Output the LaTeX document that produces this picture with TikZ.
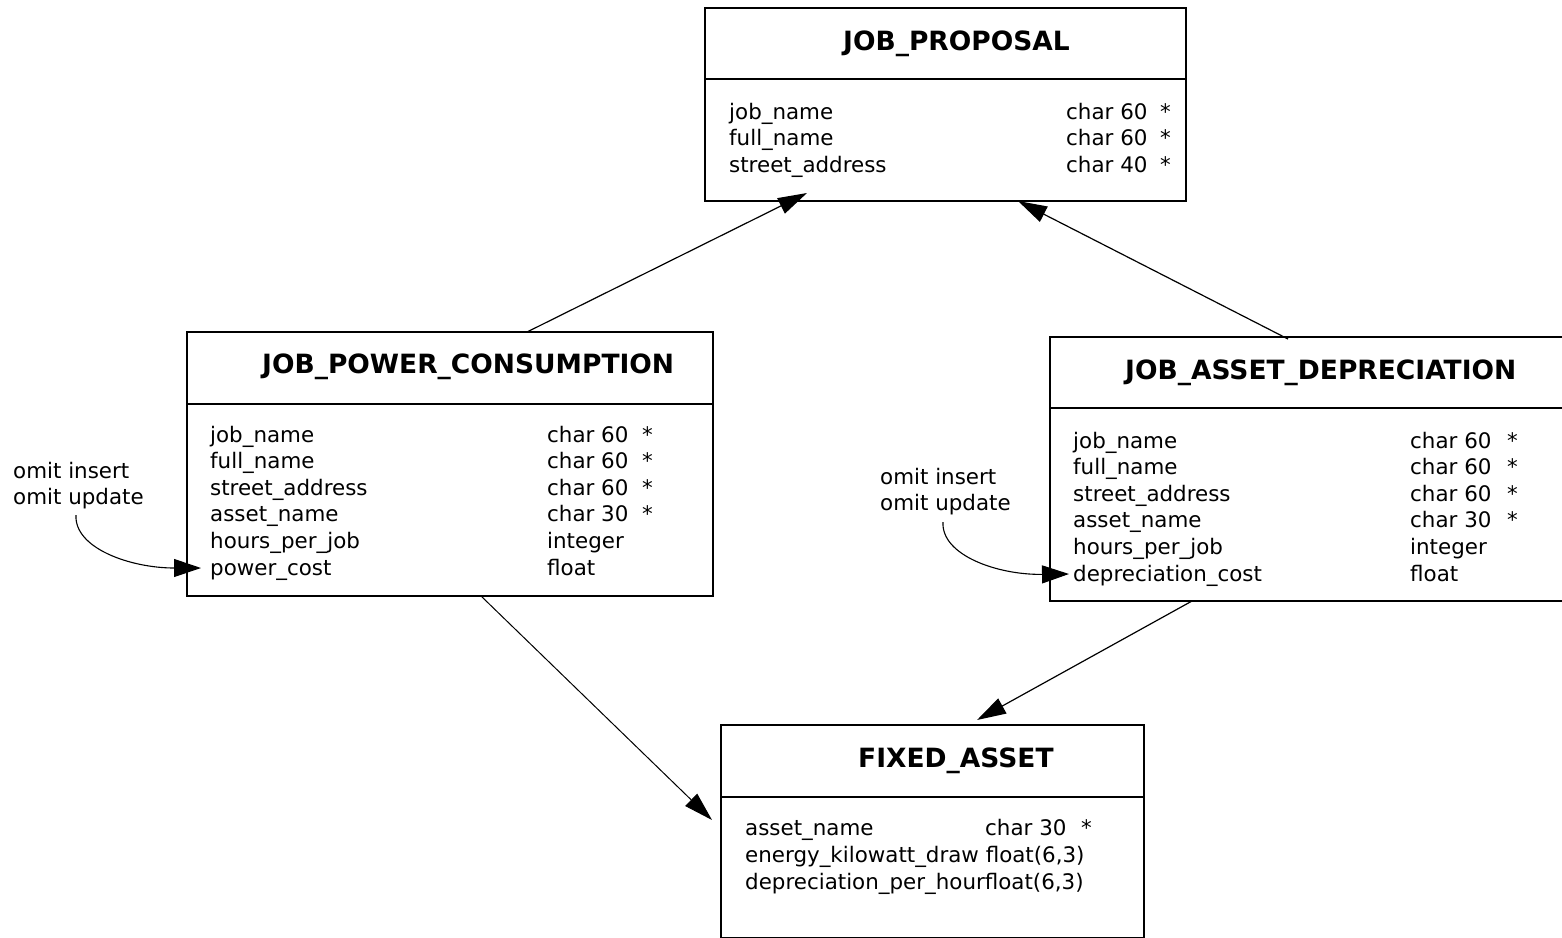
\documentclass[tikz,border=0pt]{standalone}
\usepackage{fontspec}
\setmainfont{DejaVu Sans}
\usetikzlibrary{arrows.meta}
\tikzset{
  tbl/.style={draw, line width=2pt, rectangle, inner sep=0pt, outer sep=0pt, anchor=north west},
  ttl/.style={anchor=base west, inner sep=0pt, font=\fontsize{26.5}{30}\selectfont\bfseries},
  fld/.style={anchor=base west, inner sep=0pt, font=\fontsize{21.4}{25}\selectfont},
  conn/.style={line width=1.2pt, -{Triangle[length=29pt,width=17pt]}},
  note/.style={line width=1.1pt, -{Triangle[length=27pt,width=18pt]}}
}
\begin{document}
\begin{tikzpicture}[x=1pt,y=-1pt]
\useasboundingbox (0,0) rectangle (1562,937);

% JOB_PROPOSAL
\node[tbl, minimum width=481pt, minimum height=193pt] (jp) at (705,8) {};
\draw[line width=2pt] (705,79) -- (1186,79);
\node[ttl] (jpt) at (843,50) {JOB\_PROPOSAL};
\foreach \n/\t/\y [count=\i] in {job\_name/char 60/119, full\_name/char 60/145.5, street\_address/char 40/172}{
  \node[fld] (jpn\i) at (729,\y) {\n};
  \node[fld] (jpy\i) at (1066,\y) {\t};
  \node[fld] (jps\i) at (1160,\y) {*};
}

% JOB_POWER_CONSUMPTION
\node[tbl, minimum width=526pt, minimum height=264pt] (jpc) at (187,332) {};
\draw[line width=2pt] (187,404) -- (713,404);
\node[ttl] (jpct) at (262,373) {JOB\_POWER\_CONSUMPTION};
\foreach \n/\t/\s/\y [count=\i] in {job\_name/char 60/*/442, full\_name/char 60/*/468.6, street\_address/char 60/*/495.2, asset\_name/char 30/*/521.8, hours\_per\_job/integer//548.4, power\_cost/float//575}{
  \node[fld] (jpcn\i) at (210,\y) {\n};
  \node[fld] (jpcy\i) at (547,\y) {\t};
  \node[fld] (jpcs\i) at (642,\y) {\s};
}

% JOB_ASSET_DEPRECIATION
\node[tbl, minimum width=514pt, minimum height=264pt] (jad) at (1050,337) {};
\draw[line width=2pt] (1050,408) -- (1564,408);
\node[ttl] (jadt) at (1125,379) {JOB\_ASSET\_DEPRECIATION};
\foreach \n/\t/\s/\y [count=\i] in {job\_name/char 60/*/448, full\_name/char 60/*/474.6, street\_address/char 60/*/501.2, asset\_name/char 30/*/527.8, hours\_per\_job/integer//554.4, depreciation\_cost/float//581}{
  \node[fld] (jadn\i) at (1073,\y) {\n};
  \node[fld] (jady\i) at (1410,\y) {\t};
  \node[fld] (jads\i) at (1507,\y) {\s};
}

% FIXED_ASSET
\node[tbl, minimum width=423pt, minimum height=213pt] (fa) at (721,725) {};
\draw[line width=2pt] (721,797) -- (1144,797);
\node[ttl] (fat) at (858,767) {FIXED\_ASSET};
\node[fld] (fan1) at (745,835) {asset\_name};
\node[fld] (fay1) at (985,835) {char 30};
\node[fld] (fas1) at (1081,835) {*};
\node[fld] (fan2) at (745,862) {energy\_kilowatt\_draw float(6,3)};
\node[fld] (fan3) at (745,889) {depreciation\_per\_hourfloat(6,3)};

% annotations
\node[fld] (n1a) at (13,478) {omit insert};
\node[fld] (n1b) at (13,504) {omit update};
\node[fld] (n2a) at (880,484) {omit insert};
\node[fld] (n2b) at (880,510) {omit update};
\coordinate (c1s) at (76,515);
\coordinate (c2s) at (943,522);

\draw[note] (c1s) .. controls (74,548) and (130,568) .. ([xshift=-9pt,yshift=7pt]jpcn6.base west);
\draw[note] (c2s) .. controls (941,555) and (997,575) .. ([xshift=-4pt,yshift=7pt]jadn6.base west);

% connectors
\draw[conn] ([xshift=340pt]jpc.north west) -- ([xshift=102pt,yshift=8pt]jp.south west);
\draw[conn] ([xshift=238pt,yshift=-2pt]jad.north west) -- ([xshift=313pt]jp.south west);
\draw[conn, line width=1pt] ([xshift=294pt]jpc.south west) -- ([xshift=-9pt,yshift=-95pt]fa.north west);
\draw[conn] ([xshift=142pt]jad.south west) -- ([xshift=256pt,yshift=5pt]fa.north west);
\end{tikzpicture}
\end{document}
